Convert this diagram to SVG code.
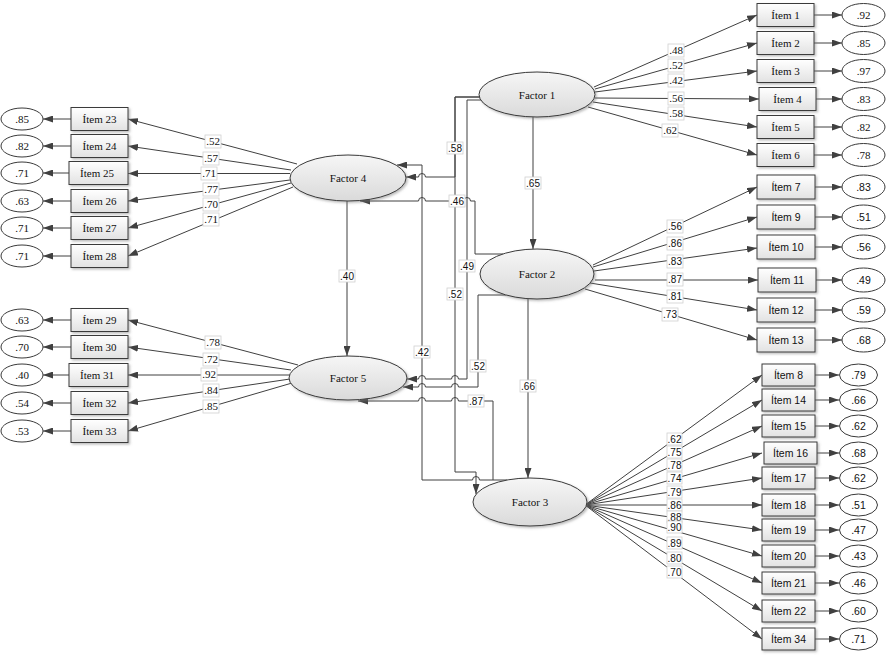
<svg xmlns="http://www.w3.org/2000/svg" width="888" height="655" viewBox="0 0 888 655">
<defs>
<linearGradient id="gbox" x1="0" y1="0" x2="0" y2="1"><stop offset="0" stop-color="#ffffff"/><stop offset="1" stop-color="#e2e2e2"/></linearGradient>
<linearGradient id="gfac" x1="0" y1="0" x2="0" y2="1"><stop offset="0" stop-color="#f6f6f6"/><stop offset="1" stop-color="#dadada"/></linearGradient>
<filter id="sh" x="-20%" y="-20%" width="140%" height="150%"><feDropShadow dx="1.5" dy="1.5" stdDeviation="0.8" flood-color="#777" flood-opacity="0.5"/></filter>
<marker id="ah" viewBox="0 0 10 7" refX="10" refY="3.5" markerWidth="10" markerHeight="7" markerUnits="userSpaceOnUse" orient="auto"><path d="M0,0 L10,3.5 L0,7 z" fill="#404040"/></marker>
</defs>
<style>
.ln{stroke:#404040;stroke-width:1;fill:none;marker-end:url(#ah)}
.ln0{stroke:#404040;stroke-width:1;fill:none}
.box{fill:url(#gbox);stroke:#3a3a3a;stroke-width:1;filter:url(#sh)}
.err{fill:#fff;stroke:#3a3a3a;stroke-width:1}
.fac{fill:url(#gfac);stroke:#3a3a3a;stroke-width:1;filter:url(#sh)}
.ts{font-family:"Liberation Serif",serif;font-size:11px;fill:#111;text-anchor:middle;dominant-baseline:central}
.tn{font-family:"Liberation Sans",sans-serif;font-size:10.5px;fill:#111;text-anchor:middle;dominant-baseline:central}
.lb{fill:#fff;stroke:#d0d0d0;stroke-width:0.8}
.ls{font-family:"Liberation Serif",serif;font-size:11px;fill:#111;text-anchor:middle;dominant-baseline:central}
.lsn{font-family:"Liberation Sans",sans-serif;font-size:10px;fill:#111;text-anchor:middle;dominant-baseline:central}
</style>
<rect width="888" height="655" fill="#fff"/>
<g id="connectors">
<!-- Factor 1 loadings -->
<path class="ln" d="M594,87 L757,15"/>
<path class="ln" d="M595,89 L757,43"/>
<path class="ln" d="M595,92 L757,71"/>
<path class="ln" d="M595,98 L759,99"/>
<path class="ln" d="M593,102 L757,127"/>
<path class="ln" d="M588,107 L757,155"/>
<!-- Factor 2 loadings -->
<path class="ln" d="M593,265 L757,187"/>
<path class="ln" d="M593,267 L757,217"/>
<path class="ln" d="M594,271 L757,248"/>
<path class="ln" d="M595,280 L758,280"/>
<path class="ln" d="M590,283 L757,310"/>
<path class="ln" d="M585,289 L757,340"/>
<!-- Factor 3 loadings -->
<path class="ln" d="M585,505 L762,375"/>
<path class="ln" d="M585,505 L762,400"/>
<path class="ln" d="M585,505 L762,426"/>
<path class="ln" d="M585,505 L762,453"/>
<path class="ln" d="M585,505 L762,478"/>
<path class="ln" d="M585,505 L762,505"/>
<path class="ln" d="M585,505 L762,530"/>
<path class="ln" d="M585,505 L762,556"/>
<path class="ln" d="M585,505 L762,583"/>
<path class="ln" d="M585,505 L762,611"/>
<path class="ln" d="M585,505 L762,639"/>
<!-- Factor 4 loadings -->
<path class="ln" d="M297,164 L128,119"/>
<path class="ln" d="M291,170 L128,146"/>
<path class="ln" d="M290,173.5 L128,173.5"/>
<path class="ln" d="M290,180 L128,201"/>
<path class="ln" d="M291,183 L128,228"/>
<path class="ln" d="M293,187 L128,256"/>
<!-- Factor 5 loadings -->
<path class="ln" d="M298,365 L128,320"/>
<path class="ln" d="M291,370 L128,347"/>
<path class="ln" d="M290,375 L128,375"/>
<path class="ln" d="M290,379 L128,403"/>
<path class="ln" d="M292,383 L128,431"/>
<!-- error arrows right -->
<path class="ln" d="M814,15 L842,15"/>
<path class="ln" d="M814,43 L842,43"/>
<path class="ln" d="M814,71 L842,71"/>
<path class="ln" d="M816,99 L842,99"/>
<path class="ln" d="M814,127 L842,127"/>
<path class="ln" d="M814,155 L842,155"/>
<path class="ln" d="M815,187 L842,187"/>
<path class="ln" d="M815,217 L842,217"/>
<path class="ln" d="M815,247 L842,247"/>
<path class="ln" d="M815,280 L842,280"/>
<path class="ln" d="M815,310 L842,310"/>
<path class="ln" d="M815,340 L842,340"/>
<path class="ln" d="M815,375 L839,375"/>
<path class="ln" d="M815,400 L839,400"/>
<path class="ln" d="M815,426 L839,426"/>
<path class="ln" d="M815,453 L839,453"/>
<path class="ln" d="M815,478 L839,478"/>
<path class="ln" d="M815,505 L839,505"/>
<path class="ln" d="M815,530 L839,530"/>
<path class="ln" d="M815,556 L839,556"/>
<path class="ln" d="M815,583 L839,583"/>
<path class="ln" d="M815,611 L839,611"/>
<path class="ln" d="M815,639 L839,639"/>
<!-- error arrows left -->
<path class="ln" d="M71,119 L43,119"/>
<path class="ln" d="M71,146 L43,146"/>
<path class="ln" d="M69,173 L43,173"/>
<path class="ln" d="M71,201 L43,201"/>
<path class="ln" d="M71,228 L43,228"/>
<path class="ln" d="M71,256 L43,256"/>
<path class="ln" d="M71,320 L43,320"/>
<path class="ln" d="M71,347 L43,347"/>
<path class="ln" d="M69,375 L43,375"/>
<path class="ln" d="M71,403 L43,403"/>
<path class="ln" d="M71,431 L43,431"/>
<!-- structural paths -->
<path class="ln" d="M533,117 L533,249"/>
<path class="ln" d="M528,299 L528,478"/>
<path class="ln" d="M347,201 L347,356"/>
<path class="ln" d="M481,97 L455,97 L455,177 L425.5,177 A3.5,3.5 0 0 0 418.5,177 L406,177"/>
<path class="ln" d="M481,97 L455,97 L455,472 L476,472 L476,494"/>
<path class="ln" d="M481,100 L467,100 L467,379 L458.5,379 A3.5,3.5 0 0 0 451.5,379 L425.5,379 A3.5,3.5 0 0 0 418.5,379 L407,379"/>
<path class="ln" d="M506,295 L478,295 L478,387 L458.5,387 A3.5,3.5 0 0 0 451.5,387 L425.5,387 A3.5,3.5 0 0 0 418.5,387 L403,387"/>
<path class="ln" d="M503,254 L475,254 L475,201 L470.5,201 A3.5,3.5 0 0 0 463.5,201 L458.5,201 A3.5,3.5 0 0 0 451.5,201 L425.5,201 A3.5,3.5 0 0 0 418.5,201 L360,201"/>
<path class="ln" d="M507,480 L479.5,480 A3.5,3.5 0 0 0 472.5,480 L422,480 L422,165 L397,165"/>
<path class="ln" d="M493,480 L493,401 L458.5,401 A3.5,3.5 0 0 0 451.5,401 L425.5,401 A3.5,3.5 0 0 0 418.5,401 L358,401"/>
<!-- labels: structural -->
<g>
<rect class="lb" x="447" y="142" width="16" height="12"/><text class="lsn" x="455" y="148">.58</text>
<rect class="lb" x="449" y="195" width="16" height="12"/><text class="lsn" x="457" y="201">.46</text>
<rect class="lb" x="459" y="260" width="16" height="12"/><text class="lsn" x="467" y="266">.49</text>
<rect class="lb" x="447" y="288" width="16" height="12"/><text class="lsn" x="455" y="294">.52</text>
<rect class="lb" x="414" y="346" width="16" height="12"/><text class="lsn" x="422" y="352">.42</text>
<rect class="lb" x="470" y="360" width="16" height="12"/><text class="lsn" x="478" y="366">.52</text>
<rect class="lb" x="468" y="395" width="16" height="12"/><text class="lsn" x="476" y="401">.87</text>
<rect class="lb" x="525" y="177" width="16" height="12"/><text class="lsn" x="533" y="183">.65</text>
<rect class="lb" x="520" y="380" width="16" height="12"/><text class="lsn" x="528" y="386">.66</text>
<rect class="lb" x="339" y="270" width="16" height="12"/><text class="lsn" x="347" y="276">.40</text>
</g>
<!-- labels: factor 1 -->
<g>
<rect class="lb" x="668" y="44" width="16" height="13"/><text class="ls" x="676" y="50">.48</text>
<rect class="lb" x="668" y="59" width="16" height="13"/><text class="ls" x="676" y="65">.52</text>
<rect class="lb" x="668" y="74" width="16" height="13"/><text class="ls" x="676" y="80">.42</text>
<rect class="lb" x="668" y="92" width="16" height="13"/><text class="ls" x="676" y="98">.56</text>
<rect class="lb" x="668" y="107" width="16" height="13"/><text class="ls" x="676" y="113">.58</text>
<rect class="lb" x="662" y="124" width="16" height="13"/><text class="ls" x="670" y="130">.62</text>
</g>
<!-- labels: factor 2 -->
<g>
<rect class="lb" x="667" y="220" width="16" height="13"/><text class="lsn" x="675" y="226">.56</text>
<rect class="lb" x="667" y="237" width="16" height="13"/><text class="lsn" x="675" y="243">.86</text>
<rect class="lb" x="667" y="255" width="16" height="13"/><text class="lsn" x="675" y="261">.83</text>
<rect class="lb" x="667" y="273" width="16" height="13"/><text class="lsn" x="675" y="279">.87</text>
<rect class="lb" x="667" y="290" width="16" height="13"/><text class="lsn" x="675" y="296">.81</text>
<rect class="lb" x="662" y="308" width="16" height="13"/><text class="lsn" x="670" y="314">.73</text>
</g>
<!-- labels: factor 3 -->
<g>
<rect class="lb" x="667" y="433" width="15" height="12"/><text class="lsn" x="674.5" y="439">.62</text>
<rect class="lb" x="667" y="446" width="15" height="12"/><text class="lsn" x="674.5" y="452">.75</text>
<rect class="lb" x="667" y="459" width="15" height="12"/><text class="lsn" x="674.5" y="465">.78</text>
<rect class="lb" x="667" y="472" width="15" height="12"/><text class="lsn" x="674.5" y="478">.74</text>
<rect class="lb" x="667" y="486" width="15" height="12"/><text class="lsn" x="674.5" y="492">.79</text>
<rect class="lb" x="667" y="499" width="15" height="12"/><text class="lsn" x="674.5" y="505">.86</text>
<rect class="lb" x="667" y="511" width="15" height="12"/><text class="lsn" x="674.5" y="517">.88</text>
<rect class="lb" x="667" y="521" width="15" height="12"/><text class="lsn" x="674.5" y="527">.90</text>
<rect class="lb" x="667" y="537" width="15" height="12"/><text class="lsn" x="674.5" y="543">.89</text>
<rect class="lb" x="667" y="552" width="15" height="12"/><text class="lsn" x="674.5" y="558">.80</text>
<rect class="lb" x="667" y="566" width="15" height="12"/><text class="lsn" x="674.5" y="572">.70</text>
</g>
<!-- labels: factor 4 -->
<g>
<rect class="lb" x="205" y="135" width="16" height="13"/><text class="ls" x="213" y="141">.52</text>
<rect class="lb" x="203" y="152" width="16" height="13"/><text class="ls" x="211" y="158">.57</text>
<rect class="lb" x="201" y="167" width="16" height="13"/><text class="ls" x="209" y="173">.71</text>
<rect class="lb" x="203" y="183" width="16" height="13"/><text class="ls" x="211" y="189">.77</text>
<rect class="lb" x="203" y="198" width="16" height="13"/><text class="ls" x="211" y="204">.70</text>
<rect class="lb" x="203" y="213" width="16" height="13"/><text class="ls" x="211" y="219">.71</text>
</g>
<!-- labels: factor 5 -->
<g>
<rect class="lb" x="205" y="336" width="16" height="13"/><text class="ls" x="213" y="342">.78</text>
<rect class="lb" x="203" y="353" width="16" height="13"/><text class="ls" x="211" y="359">.72</text>
<rect class="lb" x="201" y="368" width="16" height="13"/><text class="ls" x="209" y="374">.92</text>
<rect class="lb" x="203" y="384" width="16" height="13"/><text class="ls" x="211" y="390">.84</text>
<rect class="lb" x="203" y="400" width="16" height="13"/><text class="ls" x="211" y="406">.85</text>
</g>
</g>
<!-- factors -->
<g id="factor1"><ellipse class="fac" cx="537" cy="94.5" rx="58" ry="22.5"/><text class="ts" x="537" y="94.5">Factor 1</text></g>
<g id="factor2"><ellipse class="fac" cx="537" cy="274" rx="57" ry="25"/><text class="ts" x="537" y="274">Factor 2</text></g>
<g id="factor3"><ellipse class="fac" cx="530" cy="502" rx="57" ry="24"/><text class="ts" x="530" y="502">Factor 3</text></g>
<g id="factor4"><ellipse class="fac" cx="348" cy="178" rx="58" ry="23"/><text class="ts" x="348" y="178">Factor 4</text></g>
<g id="factor5"><ellipse class="fac" cx="348" cy="378" rx="59" ry="22"/><text class="ts" x="348" y="378">Factor 5</text></g>
<!-- factor 1 items -->
<g id="item1"><rect class="box" x="757" y="3.5" width="57" height="23"/><text class="ts" x="785.5" y="15">Ítem 1</text></g>
<g id="item2"><rect class="box" x="757" y="31.5" width="57" height="23"/><text class="ts" x="785.5" y="43">Ítem 2</text></g>
<g id="item3"><rect class="box" x="757" y="59.5" width="57" height="23"/><text class="ts" x="785.5" y="71">Ítem 3</text></g>
<g id="item4"><rect class="box" x="759" y="87.5" width="57" height="23"/><text class="ts" x="787.5" y="99">Ítem 4</text></g>
<g id="item5"><rect class="box" x="757" y="115.5" width="57" height="23"/><text class="ts" x="785.5" y="127">Ítem 5</text></g>
<g id="item6"><rect class="box" x="757" y="143.5" width="57" height="23"/><text class="ts" x="785.5" y="155">Ítem 6</text></g>
<!-- factor 2 items -->
<g id="item7"><rect class="box" x="757" y="175" width="58" height="24"/><text class="tn" x="786" y="187">Ítem 7</text></g>
<g id="item9"><rect class="box" x="757" y="205" width="58" height="24"/><text class="tn" x="786" y="217">Ítem 9</text></g>
<g id="item10"><rect class="box" x="757" y="235" width="58" height="24"/><text class="tn" x="786" y="247">Ítem 10</text></g>
<g id="item11"><rect class="box" x="758" y="268" width="58" height="24"/><text class="tn" x="787" y="280">Ítem 11</text></g>
<g id="item12"><rect class="box" x="757" y="298" width="58" height="24"/><text class="tn" x="786" y="310">Ítem 12</text></g>
<g id="item13"><rect class="box" x="757" y="328" width="58" height="24"/><text class="tn" x="786" y="340">Ítem 13</text></g>
<!-- factor 3 items -->
<g id="item8"><rect class="box" x="762" y="364" width="53" height="22"/><text class="tn" x="788.5" y="375">Ítem 8</text></g>
<g id="item14"><rect class="box" x="762" y="389" width="53" height="22"/><text class="tn" x="788.5" y="400">Ítem 14</text></g>
<g id="item15"><rect class="box" x="762" y="415" width="53" height="22"/><text class="tn" x="788.5" y="426">Ítem 15</text></g>
<g id="item16"><rect class="box" x="764" y="442" width="53" height="22"/><text class="tn" x="790.5" y="453">Ítem 16</text></g>
<g id="item17"><rect class="box" x="762" y="467" width="53" height="22"/><text class="tn" x="788.5" y="478">Ítem 17</text></g>
<g id="item18"><rect class="box" x="762" y="494" width="53" height="22"/><text class="tn" x="788.5" y="505">Ítem 18</text></g>
<g id="item19"><rect class="box" x="762" y="519" width="53" height="22"/><text class="tn" x="788.5" y="530">Ítem 19</text></g>
<g id="item20"><rect class="box" x="762" y="545" width="53" height="22"/><text class="tn" x="788.5" y="556">Ítem 20</text></g>
<g id="item21"><rect class="box" x="762" y="572" width="53" height="22"/><text class="tn" x="788.5" y="583">Ítem 21</text></g>
<g id="item22"><rect class="box" x="762" y="600" width="53" height="22"/><text class="tn" x="788.5" y="611">Ítem 22</text></g>
<g id="item34"><rect class="box" x="762" y="628" width="53" height="22"/><text class="tn" x="788.5" y="639">Ítem 34</text></g>
<!-- factor 4 items -->
<g id="item23"><rect class="box" x="71" y="107.5" width="57" height="23"/><text class="ts" x="99.5" y="119">Ítem 23</text></g>
<g id="item24"><rect class="box" x="71" y="134.5" width="57" height="23"/><text class="ts" x="99.5" y="146">Ítem 24</text></g>
<g id="item25"><rect class="box" x="69" y="161.5" width="59" height="23"/><text class="ts" x="97" y="173">Ítem 25</text></g>
<g id="item26"><rect class="box" x="71" y="189.5" width="57" height="23"/><text class="ts" x="99.5" y="201">Ítem 26</text></g>
<g id="item27"><rect class="box" x="71" y="216.5" width="57" height="23"/><text class="ts" x="99.5" y="228">Ítem 27</text></g>
<g id="item28"><rect class="box" x="71" y="244.5" width="57" height="23"/><text class="ts" x="99.5" y="256">Ítem 28</text></g>
<!-- factor 5 items -->
<g id="item29"><rect class="box" x="71" y="308.5" width="57" height="23"/><text class="ts" x="99.5" y="320">Ítem 29</text></g>
<g id="item30"><rect class="box" x="71" y="335.5" width="57" height="23"/><text class="ts" x="99.5" y="347">Ítem 30</text></g>
<g id="item31"><rect class="box" x="69" y="363.5" width="59" height="23"/><text class="ts" x="97" y="375">Ítem 31</text></g>
<g id="item32"><rect class="box" x="71" y="391.5" width="57" height="23"/><text class="ts" x="99.5" y="403">Ítem 32</text></g>
<g id="item33"><rect class="box" x="71" y="419.5" width="57" height="23"/><text class="ts" x="99.5" y="431">Ítem 33</text></g>
<!-- errors right -->
<g id="e1"><ellipse class="err" cx="863.5" cy="15" rx="21.5" ry="11.5"/><text class="ts" x="863.5" y="15">.92</text></g>
<g id="e2"><ellipse class="err" cx="863.5" cy="43" rx="21.5" ry="11.5"/><text class="ts" x="863.5" y="43">.85</text></g>
<g id="e3"><ellipse class="err" cx="863.5" cy="71" rx="21.5" ry="11.5"/><text class="ts" x="863.5" y="71">.97</text></g>
<g id="e4"><ellipse class="err" cx="863.5" cy="99" rx="21.5" ry="11.5"/><text class="ts" x="863.5" y="99">.83</text></g>
<g id="e5"><ellipse class="err" cx="863.5" cy="127" rx="21.5" ry="11.5"/><text class="ts" x="863.5" y="127">.82</text></g>
<g id="e6"><ellipse class="err" cx="863.5" cy="155" rx="21.5" ry="11.5"/><text class="ts" x="863.5" y="155">.78</text></g>
<g id="e7"><ellipse class="err" cx="863.5" cy="187" rx="21.5" ry="12"/><text class="tn" x="863.5" y="187">.83</text></g>
<g id="e9"><ellipse class="err" cx="863.5" cy="217" rx="21.5" ry="12"/><text class="tn" x="863.5" y="217">.51</text></g>
<g id="e10"><ellipse class="err" cx="863.5" cy="247" rx="21.5" ry="12"/><text class="tn" x="863.5" y="247">.56</text></g>
<g id="e11"><ellipse class="err" cx="863.5" cy="280" rx="21.5" ry="12"/><text class="tn" x="863.5" y="280">.49</text></g>
<g id="e12"><ellipse class="err" cx="863.5" cy="310" rx="21.5" ry="12"/><text class="tn" x="863.5" y="310">.59</text></g>
<g id="e13"><ellipse class="err" cx="863.5" cy="340" rx="21.5" ry="12"/><text class="tn" x="863.5" y="340">.68</text></g>
<g id="e8"><ellipse class="err" cx="858.5" cy="375" rx="19" ry="11"/><text class="tn" x="858.5" y="375">.79</text></g>
<g id="e14"><ellipse class="err" cx="858.5" cy="400" rx="19" ry="11"/><text class="tn" x="858.5" y="400">.66</text></g>
<g id="e15"><ellipse class="err" cx="858.5" cy="426" rx="19" ry="11"/><text class="tn" x="858.5" y="426">.62</text></g>
<g id="e16"><ellipse class="err" cx="858.5" cy="453" rx="19" ry="11"/><text class="tn" x="858.5" y="453">.68</text></g>
<g id="e17"><ellipse class="err" cx="858.5" cy="478" rx="19" ry="11"/><text class="tn" x="858.5" y="478">.62</text></g>
<g id="e18"><ellipse class="err" cx="858.5" cy="505" rx="19" ry="11"/><text class="tn" x="858.5" y="505">.51</text></g>
<g id="e19"><ellipse class="err" cx="858.5" cy="530" rx="19" ry="11"/><text class="tn" x="858.5" y="530">.47</text></g>
<g id="e20"><ellipse class="err" cx="858.5" cy="556" rx="19" ry="11"/><text class="tn" x="858.5" y="556">.43</text></g>
<g id="e21"><ellipse class="err" cx="858.5" cy="583" rx="19" ry="11"/><text class="tn" x="858.5" y="583">.46</text></g>
<g id="e22"><ellipse class="err" cx="858.5" cy="611" rx="19" ry="11"/><text class="tn" x="858.5" y="611">.60</text></g>
<g id="e34"><ellipse class="err" cx="858.5" cy="639" rx="19" ry="11"/><text class="tn" x="858.5" y="639">.71</text></g>
<!-- errors left -->
<g id="e23"><ellipse class="err" cx="22" cy="119" rx="21" ry="11"/><text class="ts" x="22" y="119">.85</text></g>
<g id="e24"><ellipse class="err" cx="22" cy="146" rx="21" ry="11"/><text class="ts" x="22" y="146">.82</text></g>
<g id="e25"><ellipse class="err" cx="22" cy="173" rx="21" ry="11"/><text class="ts" x="22" y="173">.71</text></g>
<g id="e26"><ellipse class="err" cx="22" cy="201" rx="21" ry="11"/><text class="ts" x="22" y="201">.63</text></g>
<g id="e27"><ellipse class="err" cx="22" cy="228" rx="21" ry="11"/><text class="ts" x="22" y="228">.71</text></g>
<g id="e28"><ellipse class="err" cx="22" cy="256" rx="21" ry="11"/><text class="ts" x="22" y="256">.71</text></g>
<g id="e29"><ellipse class="err" cx="22" cy="320" rx="21" ry="11"/><text class="ts" x="22" y="320">.63</text></g>
<g id="e30"><ellipse class="err" cx="22" cy="347" rx="21" ry="11"/><text class="ts" x="22" y="347">.70</text></g>
<g id="e31"><ellipse class="err" cx="22" cy="375" rx="21" ry="11"/><text class="ts" x="22" y="375">.40</text></g>
<g id="e32"><ellipse class="err" cx="22" cy="403" rx="21" ry="11"/><text class="ts" x="22" y="403">.54</text></g>
<g id="e33"><ellipse class="err" cx="22" cy="431" rx="21" ry="11"/><text class="ts" x="22" y="431">.53</text></g>
</svg>
